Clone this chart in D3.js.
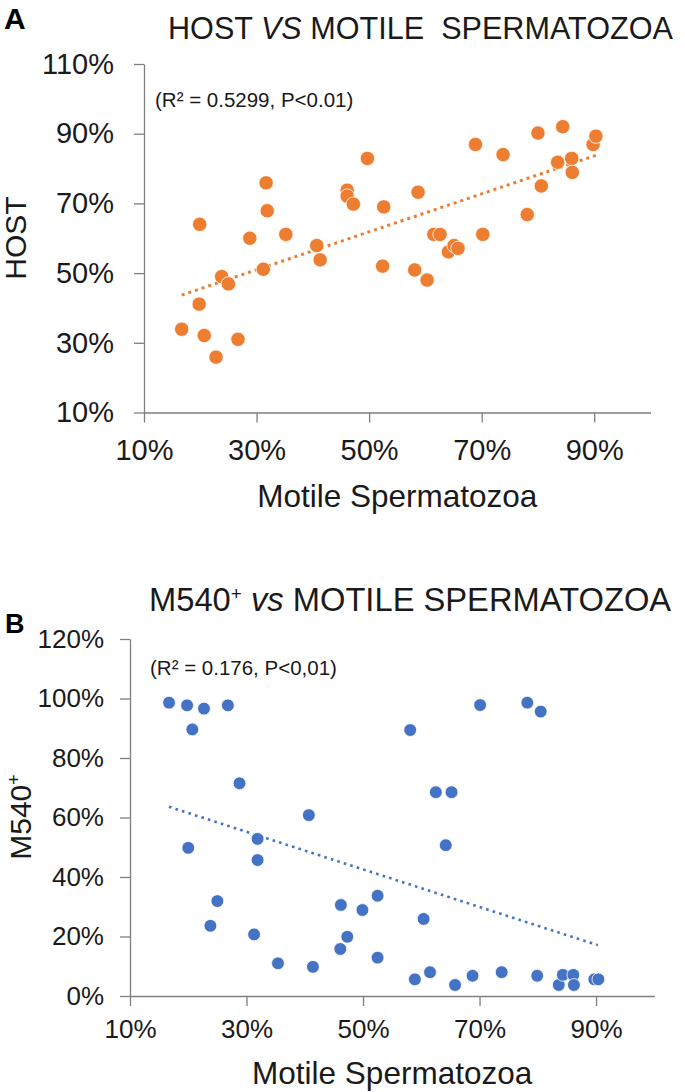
<!DOCTYPE html>
<html>
<head>
<meta charset="utf-8">
<script src="https://cdn.jsdelivr.net/npm/d3@7"></script>
<style>
  html, body { margin: 0; padding: 0; background: #fff; }
  svg { display: block; font-family: "Liberation Sans", Arial, sans-serif; }
  text { white-space: pre; }
</style>
</head>
<body>
<svg id="chart" width="685" height="1092"></svg>
<script>
// ---------- Panel A : HOST vs motile spermatozoa ----------
const motileA = [16.7, 19.9, 19.8, 20.7, 22.8, 23.8, 25.0, 26.7, 28.8, 31.7, 31.9, 31.2, 35.2, 40.7, 41.3,
  46.1, 46.1, 47.2, 49.7, 52.6, 52.4, 58.7, 58.1, 60.3, 61.5, 62.6, 64.1, 65.1, 65.8, 68.9, 70.2,
  73.8, 78.1, 80.0, 80.6, 83.5, 84.4, 86.0, 86.1, 89.8, 90.3];
const hostA = [33.9, 64.0, 41.1, 32.1, 25.9, 49.0, 46.9, 31.0, 60.0, 75.9, 67.9, 51.1, 61.1, 57.9, 53.8,
  73.8, 72.1, 69.8, 82.9, 69.0, 52.0, 73.2, 50.9, 48.0, 61.1, 61.1, 56.1, 57.9, 57.1, 86.9, 61.1,
  84.0, 66.8, 90.2, 75.0, 81.8, 92.0, 82.9, 78.9, 86.9, 89.3];
const trendAx = [16.7, 90.3];
const trendAy = [43.7, 83.8];
const ticksAx = [10, 30, 50, 70, 90];
const ticksAy = [10, 30, 50, 70, 90, 110];

// ---------- Panel B : M540+ vs motile spermatozoa ----------
const motileB = [16.7, 19.8, 22.7, 26.8, 20.7, 28.8, 40.7, 20.0, 31.9, 31.9, 25.0, 23.8, 31.3, 35.4, 41.4,
  46.2, 49.9, 52.5, 47.3, 46.1, 52.5, 58.1, 70.1, 78.2, 80.5, 62.5, 65.2, 64.2, 60.4, 58.9, 61.5,
  65.8, 68.8, 73.8, 79.9, 83.6, 84.3, 86.1, 86.2, 89.7, 90.4];
const m540B = [98.6, 97.7, 96.6, 97.7, 89.6, 71.5, 60.8, 49.8, 52.8, 45.7, 31.9, 23.6, 20.7, 11.0, 9.8,
  30.6, 28.9, 33.7, 19.9, 15.8, 12.9, 89.4, 97.8, 98.6, 95.6, 68.5, 68.5, 50.7, 25.9, 5.6, 8.0,
  3.7, 6.8, 8.0, 6.8, 3.7, 7.1, 7.1, 3.7, 5.6, 5.6];
const trendBx = [16.7, 90.3];
const trendBy = [63.6, 17.1];
const ticksBx = [10, 30, 50, 70, 90];
const ticksBy = [0, 20, 40, 60, 80, 100, 120];

const svg = d3.select("#chart");
const axisColor = "#7f7f7f";
const pct = d => d + "%";

function panel(cfg) {
  const g = svg.append("g");
  const x = d3.scaleLinear().domain(cfg.xDomain).range(cfg.xRange);
  const y = d3.scaleLinear().domain(cfg.yDomain).range(cfg.yRange);

  const gx = g.append("g").attr("transform", `translate(0,${cfg.yRange[0]})`)
    .call(d3.axisBottom(x).tickValues(cfg.xTicks).tickFormat(pct)
      .tickSize(10).tickSizeOuter(0).tickPadding(cfg.xPad));
  const gy = g.append("g").attr("transform", `translate(${cfg.xRange[0]},0)`)
    .call(d3.axisLeft(y).tickValues(cfg.yTicks).tickFormat(pct)
      .tickSize(10).tickSizeOuter(0).tickPadding(cfg.yPad));
  [gx, gy].forEach(a => {
    a.select(".domain").attr("stroke", axisColor).attr("stroke-width", 1.3);
    a.selectAll(".tick line").attr("stroke", axisColor).attr("stroke-width", 1.3);
    a.selectAll(".tick text").attr("fill", "#1a1a1a")
      .style("font-size", cfg.tickFont + "px")
      .style("font-family", "'Liberation Sans', Arial, sans-serif");
  });

  const line = d3.line().x(d => x(d[0])).y(d => y(d[1]));
  g.append("path")
    .datum(d3.zip(cfg.trendX, cfg.trendY))
    .attr("d", line)
    .attr("fill", "none")
    .attr("stroke", cfg.color)
    .attr("stroke-width", cfg.trendW)
    .attr("stroke-dasharray", cfg.dash);

  g.selectAll("circle.pt").data(d3.zip(cfg.xs, cfg.ys)).join("circle")
    .attr("class", "pt")
    .attr("cx", d => x(d[0]))
    .attr("cy", d => y(d[1]))
    .attr("r", cfg.r)
    .attr("fill", cfg.color)
    .attr("stroke", "#fff")
    .attr("stroke-width", 0.8);

  g.append("text")
    .attr("x", (cfg.xRange[0] + cfg.xRange[1]) / 2)
    .attr("y", cfg.xTitleY)
    .attr("text-anchor", "middle")
    .style("font-size", "31.5px")
    .attr("fill", "#1a1a1a")
    .text("Motile Spermatozoa");
  return {x, y, g};
}

// ---------- Panel A ----------
const A = panel({
  xDomain: [10, 100], xRange: [144, 650.5],
  yDomain: [10, 110], yRange: [412.5, 64],
  xTicks: ticksAx, yTicks: ticksAy,
  xPad: 17, yPad: 20, tickFont: 29,
  color: "#ED7D31", r: 7.2, trendW: 3, dash: "3 4",
  trendX: trendAx, trendY: trendAy,
  xs: motileA, ys: hostA, xTitleY: 507
});

svg.append("text").attr("x", 4).attr("y", 29)
  .style("font-size", "30px").style("font-weight", "bold").text("A");

const tA = svg.append("text").attr("x", 168).attr("y", 39)
  .style("font-size", "30.6px").attr("fill", "#1a1a1a");
tA.append("tspan").text("HOST ");
tA.append("tspan").style("font-style", "italic").text("VS");
tA.append("tspan").text(" MOTILE  SPERMATOZOA");

svg.append("text").attr("x", 155).attr("y", 107)
  .style("font-size", "20.5px").attr("fill", "#1a1a1a")
  .text("(R\u00B2 = 0.5299, P<0.01)");

svg.append("text")
  .attr("transform", "translate(26,238) rotate(-90)")
  .attr("text-anchor", "middle")
  .style("font-size", "30px").attr("fill", "#1a1a1a")
  .text("HOST");

// ---------- Panel B ----------
const B = panel({
  xDomain: [10, 100], xRange: [130, 654.3],
  yDomain: [0, 120], yRange: [996, 639],
  xTicks: ticksBx, yTicks: ticksBy,
  xPad: 14, yPad: 16, tickFont: 26,
  color: "#4472C4", r: 6.4, trendW: 2.6, dash: "2.6 4.2",
  trendX: trendBx, trendY: trendBy,
  xs: motileB, ys: m540B, xTitleY: 1084
});

svg.append("text").attr("x", 5).attr("y", 633)
  .style("font-size", "27px").style("font-weight", "bold").text("B");

const tB = svg.append("text").attr("x", 149).attr("y", 611)
  .style("font-size", "32.7px").attr("fill", "#1a1a1a");
tB.append("tspan").text("M540");
tB.append("tspan").attr("dy", -11).style("font-size", "19px").text("+");
tB.append("tspan").attr("dy", 11).text(" ");
tB.append("tspan").style("font-style", "italic").text("vs");
tB.append("tspan").text(" MOTILE SPERMATOZOA");

svg.append("text").attr("x", 150).attr("y", 675)
  .style("font-size", "20.5px").attr("fill", "#1a1a1a")
  .text("(R\u00B2 = 0.176, P<0,01)");

const yTB = svg.append("text")
  .attr("transform", "translate(31,817) rotate(-90)")
  .attr("text-anchor", "middle")
  .style("font-size", "30px").attr("fill", "#1a1a1a");
yTB.append("tspan").text("M540");
yTB.append("tspan").attr("dy", -11).style("font-size", "18px").text("+");
</script>
</body>
</html>
